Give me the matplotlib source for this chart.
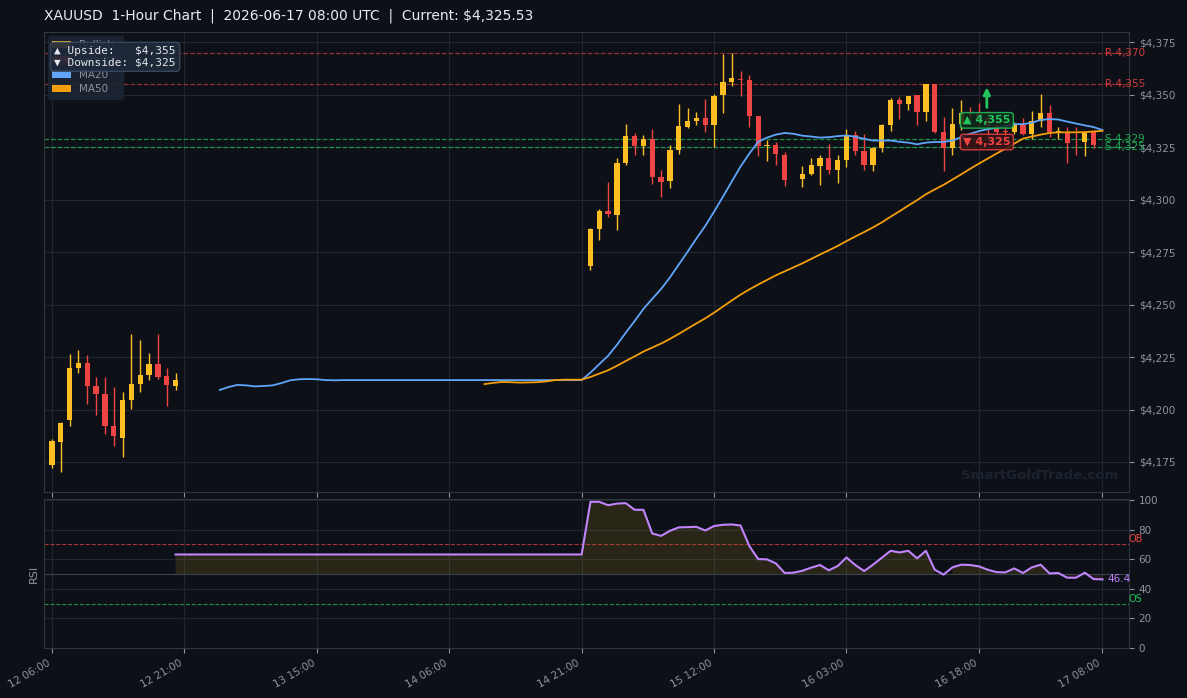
import numpy as np
import matplotlib.pyplot as plt
from matplotlib.patches import Patch
from matplotlib.ticker import FuncFormatter
import matplotlib.transforms as mtransforms

# ---- data ----
tick_pos = [0, 15, 30, 45, 60, 75, 90, 105, 119]
tick_labels = ['12 06:00', '12 21:00', '13 15:00', '14 06:00', '14 21:00',
               '15 12:00', '16 03:00', '16 18:00', '17 08:00']

# first block of candles, bar 0..14
seg1_start = 0
seg1_open = [4173.6, 4184.5, 4195.0, 4219.8, 4222.1, 4211.2, 4207.4, 4192.1,
             4186.6, 4204.7, 4212.3, 4216.6, 4221.7, 4215.9, 4211.2]
seg1_high = [4186.0, 4194.0, 4226.4, 4228.3, 4226.0, 4215.5, 4215.5, 4210.7,
             4208.3, 4236.0, 4233.0, 4226.9, 4236.0, 4219.8, 4217.4]
seg1_low = [4172.3, 4170.4, 4192.3, 4217.5, 4202.8, 4197.4, 4188.5, 4182.8,
            4177.5, 4200.2, 4208.5, 4214.2, 4214.7, 4201.8, 4209.4]
seg1_close = [4185.0, 4193.6, 4219.8, 4222.1, 4211.4, 4207.5, 4192.3, 4187.5,
              4204.5, 4212.1, 4216.4, 4221.7, 4215.6, 4211.8, 4214.0]

# second block of candles, bar 61..118 (bar 84 is a flat, undrawn bar)
seg2_start = 61
seg2_open = [4268.3, 4286.0, 4294.5, 4292.6, 4317.4, 4330.2, 4325.5, 4328.8, 4310.7, 4308.8,
             4323.6, 4334.5, 4337.4, 4338.8, 4335.5, 4349.8, 4356.0, 4357.4, 4356.9, 4339.8,
             4325.5, 4326.0, 4321.2, 4309.3, 4309.8, 4312.1, 4316.0, 4319.8, 4314.0, 4318.8,
             4330.7, 4323.1, 4316.4, 4324.5, 4335.5, 4347.4, 4345.5, 4349.8, 4341.7, 4355.0,
             4332.1, 4324.5, 4336.0, 4341.2, 4340.8, 4339.0, 4335.0, 4332.3, 4332.1, 4335.5,
             4331.2, 4337.4, 4341.2, 4332.1, 4332.1, 4327.6, 4327.4, 4332.1]
seg2_high = [4286.5, 4295.5, 4308.3, 4319.8, 4336.0, 4331.7, 4330.7, 4333.6, 4314.0, 4326.0,
             4345.5, 4343.6, 4341.7, 4347.9, 4350.2, 4369.3, 4369.6, 4361.2, 4359.3, 4340.0,
             4328.3, 4327.4, 4322.6, 4309.3, 4316.0, 4319.8, 4321.2, 4326.4, 4321.2, 4333.6,
             4332.6, 4331.2, 4325.0, 4336.0, 4348.3, 4348.8, 4349.5, 4350.0, 4355.2, 4355.2,
             4339.3, 4343.6, 4347.4, 4344.0, 4346.0, 4342.0, 4338.0, 4336.0, 4337.0, 4338.8,
             4342.1, 4350.2, 4345.0, 4334.5, 4334.5, 4334.5, 4332.6, 4333.1]
seg2_low = [4266.4, 4280.7, 4291.7, 4285.5, 4316.4, 4321.2, 4321.2, 4307.4, 4301.2, 4305.5,
            4321.7, 4334.0, 4335.5, 4332.1, 4325.0, 4341.2, 4354.0, 4349.3, 4334.5, 4320.7,
            4318.3, 4316.4, 4306.4, 4309.3, 4306.0, 4311.7, 4306.9, 4312.1, 4307.9, 4315.5,
            4321.2, 4314.0, 4313.5, 4322.6, 4332.6, 4338.3, 4342.6, 4335.5, 4337.4, 4331.6,
            4313.6, 4321.2, 4333.0, 4336.0, 4335.0, 4330.0, 4330.5, 4330.0, 4331.0, 4330.5,
            4328.8, 4334.5, 4329.8, 4328.8, 4317.4, 4321.2, 4320.7, 4324.5]
seg2_close = [4286.0, 4294.5, 4293.1, 4317.4, 4330.2, 4325.5, 4328.8, 4310.7, 4308.3, 4323.6,
              4335.0, 4337.4, 4338.8, 4335.5, 4349.3, 4356.0, 4357.9, 4357.0, 4339.9, 4325.5,
              4326.0, 4321.7, 4309.3, 4309.3, 4312.1, 4316.4, 4319.8, 4314.0, 4318.8, 4330.2,
              4323.1, 4316.4, 4324.5, 4335.5, 4347.4, 4345.5, 4349.3, 4341.7, 4355.0, 4332.1,
              4324.5, 4336.0, 4341.2, 4340.8, 4339.0, 4335.0, 4332.3, 4332.1, 4335.5, 4331.2,
              4337.4, 4341.2, 4332.1, 4332.8, 4326.9, 4327.2, 4331.7, 4326.0]

ma20_start = 19
ma20 = [4209.3, 4210.7, 4211.7, 4211.5, 4211.0, 4211.2, 4211.5, 4212.6, 4213.9, 4214.4,
        4214.5, 4214.4, 4214.0, 4213.9,
        4214.0, 4214.0, 4214.0, 4214.0, 4214.0, 4214.0, 4214.0, 4214.0, 4214.0, 4214.0,
        4214.0, 4214.0, 4214.0, 4214.0, 4214.0, 4214.0, 4214.0, 4214.0, 4214.0, 4214.0,
        4214.0, 4214.0, 4214.0, 4214.0, 4214.0, 4214.0, 4214.0, 4214.0,
        4217.6, 4221.6, 4225.6, 4230.8, 4236.6, 4242.1, 4247.9, 4252.7, 4257.4, 4262.9,
        4269.0, 4275.1, 4281.4, 4287.4, 4294.2, 4301.3, 4308.5, 4315.7, 4321.9, 4327.5,
        4329.5, 4330.9, 4331.7, 4331.3, 4330.4, 4330.0, 4329.5, 4329.7, 4330.2, 4330.5,
        4329.9, 4328.9, 4328.1, 4328.1, 4328.1, 4327.5, 4327.1, 4326.3, 4327.1, 4327.4,
        4327.4, 4328.1, 4329.7, 4331.3, 4332.6, 4333.5, 4334.1, 4335.0, 4335.9, 4335.9,
        4336.6, 4337.9, 4338.3, 4338.1, 4337.1, 4336.2, 4335.3, 4334.5, 4333.1]

ma50_start = 49
ma50 = [4212.1, 4212.7, 4213.1, 4213.0, 4212.8, 4212.9, 4213.0, 4213.4, 4214.0, 4214.2,
        4214.2, 4214.2,
        4215.5, 4217.1, 4218.7, 4220.8, 4223.1, 4225.3, 4227.6, 4229.5, 4231.4, 4233.6,
        4236.0, 4238.5, 4241.0, 4243.4, 4246.1, 4249.0, 4251.9, 4254.7, 4257.2, 4259.5,
        4261.7, 4263.9, 4265.8, 4267.7, 4269.6, 4271.7, 4273.8, 4275.8, 4277.9, 4280.2,
        4282.4, 4284.5, 4286.7, 4289.1, 4291.8, 4294.4, 4297.1, 4299.7, 4302.5, 4304.8,
        4307.0, 4309.5, 4312.0, 4314.6, 4317.1, 4319.5, 4321.9, 4324.2, 4326.6, 4329.0,
        4330.0, 4330.9, 4331.7, 4332.0, 4332.0, 4332.0, 4332.1, 4332.4, 4332.7]

rsi_start = 14
rsi = [63.2, 63.2, 63.2, 63.2, 63.2, 63.2, 63.2, 63.2, 63.2, 63.2,
       63.2, 63.2, 63.2, 63.2, 63.2, 63.2, 63.2, 63.2, 63.2, 63.2,
       63.2, 63.2, 63.2, 63.2, 63.2, 63.2, 63.2, 63.2, 63.2, 63.2,
       63.2, 63.2, 63.2, 63.2, 63.2, 63.2, 63.2, 63.2, 63.2, 63.2,
       63.2, 63.2, 63.2, 63.2, 63.2, 63.2, 63.2,
       98.8, 98.8, 96.5, 97.6, 97.9, 93.4, 93.4, 77.4, 75.8, 79.2,
       81.5, 81.7, 81.9, 79.4, 82.4, 83.3, 83.5, 82.8, 68.9, 60.1,
       59.9, 57.2, 50.7, 50.9, 52.2, 54.3, 56.1, 52.5, 55.4, 61.2,
       56.1, 52.0, 56.3, 61.0, 65.7, 64.6, 65.7, 60.6, 65.7, 52.9,
       49.6, 54.5, 56.3, 56.1, 55.2, 52.9, 51.3, 51.1, 53.8, 50.7,
       54.5, 56.3, 50.4, 50.7, 47.5, 47.5, 50.9, 46.6, 46.4]

resistance = [4370, 4355]
support = [4329, 4325]
upside_target = 4355
downside_target = 4325
current_price = 4325.53

# ---- style ----
BG = '#0d1117'
GRID = '#1f2630'
SPINE = '#30363d'
TXT = '#8b949e'
BULL = '#fbbf24'
BEAR = '#ef4444'
C_MA20 = '#60a5fa'
C_MA50 = '#f59e0b'
GREEN = '#22c55e'
PURPLE = '#c084fc'

fig = plt.figure(figsize=(11.87, 6.98), dpi=100, facecolor=BG)
ax = fig.add_axes([0.0371, 0.2951, 0.914, 0.6591])
ax2 = fig.add_axes([0.0371, 0.0716, 0.914, 0.2135], sharex=ax)

for a in (ax, ax2):
    a.set_facecolor(BG)
    for s in a.spines.values():
        s.set_color(SPINE)
        s.set_linewidth(0.8)
    a.grid(True, color=GRID, lw=0.8)
    a.set_axisbelow(True)
    a.yaxis.tick_right()
    a.tick_params(colors=TXT, labelsize=7.5, length=3.5, width=0.8)


def draw_candles(a, start, o, h, l, c):
    for k in range(len(o)):
        if h[k] == l[k]:
            continue  # flat filler bar, nothing to draw
        x = start + k
        col = BULL if c[k] >= o[k] else BEAR
        a.vlines(x, l[k], h[k], color=col, lw=1.0, zorder=3)
        body = max(abs(c[k] - o[k]), 0.35)
        a.bar(x, body, bottom=min(o[k], c[k]), width=0.6, color=col, zorder=4)


draw_candles(ax, seg1_start, seg1_open, seg1_high, seg1_low, seg1_close)
draw_candles(ax, seg2_start, seg2_open, seg2_high, seg2_low, seg2_close)

ax.plot(np.arange(ma20_start, ma20_start + len(ma20)), ma20, color=C_MA20, lw=1.3, zorder=5)
ax.plot(np.arange(ma50_start, ma50_start + len(ma50)), ma50, color=C_MA50, lw=1.3, zorder=5)

xr = 119.3
for r in resistance:
    ax.axhline(r, color=BEAR, ls='--', lw=0.9, alpha=0.6, zorder=2)
    ax.text(xr, r, f'R {r:,}', color=BEAR, fontsize=7.5, va='center', ha='left', alpha=0.85)
for s_ in support:
    ax.axhline(s_, color=GREEN, ls='--', lw=0.9, alpha=0.7, zorder=2)
    ax.text(xr, s_, f'S {s_:,}', color=GREEN, fontsize=7.5, va='center', ha='left', alpha=0.85)

# target labels + arrow
ax.annotate('', xy=(105.9, 4354.8), xytext=(105.9, 4342.5),
            arrowprops=dict(arrowstyle='-|>', color=GREEN, lw=2, mutation_scale=10), zorder=8)
ax.text(105.9, 4337.7, f'▲ {upside_target:,}', color=GREEN, fontsize=8, fontweight='bold',
        ha='center', va='center', zorder=9,
        bbox=dict(boxstyle='round,pad=0.25', fc='#0f2a1a', ec=GREEN, lw=1, alpha=0.85))
ax.text(105.9, 4327.4, f'▼ {downside_target:,}', color=BEAR, fontsize=8, fontweight='bold',
        ha='center', va='center', zorder=9,
        bbox=dict(boxstyle='round,pad=0.25', fc='#3a1215', ec=BEAR, lw=1, alpha=0.85))

ax.text(0.99, 0.035, 'SmartGoldTrade.com', transform=ax.transAxes, ha='right', va='center',
        fontsize=9.5, fontweight='bold', color='#1c2330', zorder=1)

handles = [Patch(fc=BULL, label='Bullish'), Patch(fc=BEAR, label='Bearish'),
           Patch(fc=C_MA20, label='MA20'), Patch(fc=C_MA50, label='MA50')]
leg = ax.legend(handles=handles, loc='upper left', fontsize=7.5, frameon=True,
                facecolor='#1c2533', edgecolor='#1c2533', framealpha=0.9,
                labelcolor=TXT, handlelength=1.8, labelspacing=0.45,
                borderaxespad=0.4)
leg.set_zorder(9)
ax.text(0.0095, 0.969, f'▲ Upside:   ${upside_target:,}\n▼ Downside: ${downside_target:,}',
        transform=ax.transAxes, fontsize=8, family='DejaVu Sans Mono', color='#e5e7eb',
        va='top', ha='left', linespacing=1.15, zorder=12,
        bbox=dict(boxstyle='round,pad=0.35', fc='#1e293b', ec='#3b4a60', alpha=0.92))

ax.set_ylim(4160.7, 4379.8)
ax.set_yticks(np.arange(4175, 4376, 25))
ax.yaxis.set_major_formatter(FuncFormatter(lambda v, p: f'${v:,.0f}'))
ax.set_xlim(-0.9, 122)
ax.set_xticks(tick_pos)
plt.setp(ax.get_xticklabels(), visible=False)

# RSI panel
rx = np.arange(rsi_start, rsi_start + len(rsi))
rv = np.array(rsi)
ax2.fill_between(rx, rv, 50, where=rv >= 50, color=BULL, alpha=0.12, lw=0)
ax2.fill_between(rx, rv, 50, where=rv < 50, color=BEAR, alpha=0.12, lw=0)
ax2.plot(rx, rv, color=PURPLE, lw=1.5, zorder=5)
ax2.axhline(70, color=BEAR, ls='--', lw=0.8, alpha=0.7)
ax2.axhline(30, color=GREEN, ls='--', lw=0.8, alpha=0.7)
ax2.axhline(50, color='#3a414b', lw=0.8)
tr = mtransforms.blended_transform_factory(ax2.transAxes, ax2.transData)
ax2.text(1.0, 70, 'OB', transform=tr, color=BEAR, fontsize=7, ha='left', va='bottom')
ax2.text(1.0, 30, 'OS', transform=tr, color=GREEN, fontsize=7, ha='left', va='bottom')
ax2.text(rx[-1] + 0.6, rv[-1], f'{rv[-1]:.1f}', color=PURPLE, fontsize=7.5, ha='left', va='center')
ax2.set_ylim(0, 100.7)
ax2.set_yticks([0, 20, 40, 60, 80, 100])
ax2.set_ylabel('RSI', color=TXT, fontsize=8, labelpad=4)
ax2.set_xticks(tick_pos)
ax2.set_xticklabels(tick_labels, rotation=30, ha='right')

fig.text(0.037, 0.977, f'XAUUSD  1-Hour Chart  |  2026-06-17 08:00 UTC  |  Current: ${current_price:,.2f}',
         color='#e6edf3', fontsize=10, ha='left', va='center')

fig.savefig('out.png', dpi=100, facecolor=BG)
